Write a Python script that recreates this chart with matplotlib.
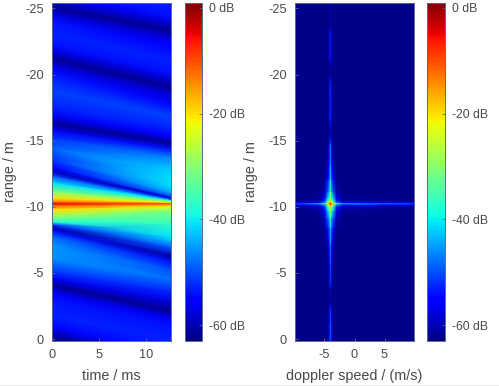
import numpy as np
import matplotlib
matplotlib.use('Agg')
from matplotlib import pyplot as plt
from matplotlib.lines import Line2D

plt.rcParams['font.family'] = ['Liberation Sans', 'DejaVu Sans']
plt.rcParams['font.size'] = 10.4
plt.rcParams['axes.unicode_minus'] = False
TEXT = '#4a4a4a'
EDGE = '#5a6a8a'

# left panel: lines of constant pattern running from t=0 to t=end (bands slope)
time_edges = [0, 12.6]
range_at_start = [-27.49, -26.21, -25.60, -25.08, -24.55, -24.02, -23.11, -22.28, -21.75, -21.22,
                  -20.69, -20.09, -18.81, -17.52, -16.84, -16.31, -15.79, -15.18, -14.43, -13.52,
                  -12.99, -12.61, -12.31, -11.78, -11.10, -10.61, -10.35, -10.20, -10.05, -9.78,
                  -9.21, -8.84, -8.61, -8.38, -8.16, -7.78, -7.10, -6.12, -5.06, -4.53,
                  -4.08, -3.55, -2.95, -1.81, -0.91, -0.23, 0.45]
range_at_end = [-25.6, -24.47, -23.94, -23.34, -22.73, -22.13, -21.07, -20.17, -19.64, -19.03,
                -18.43, -17.82, -16.84, -15.94, -15.33, -14.80, -14.35, -13.75, -12.76, -11.56,
                -10.95, -10.65, -10.54, -10.46, -10.39, -10.31, -10.25, -10.20, -10.12, -9.97,
                -9.67, -8.69, -7.63, -6.87, -6.27, -5.82, -5.21, -4.53, -3.55, -2.79,
                -2.11, -1.59, -0.98, 0.08, 0.98, 1.96, 3.10]
db_at_start = [-53, -55, -58, -62, -58, -54, -53, -54, -58, -62,
               -58, -54, -51, -53, -57, -62, -57, -52, -49, -52,
               -56, -60, -50, -41, -30, -20, -12, -5, -12, -20,
               -30, -38, -52, -61, -54, -49, -46, -46, -52, -57,
               -62, -57, -54, -53, -56, -62, -58]
db_at_end = [-53, -54, -58, -62, -58, -55, -53, -54, -58, -62,
             -58, -55, -51, -53, -56, -62, -54, -47, -42, -41,
             -46, -58, -50, -40, -30, -22, -15, -10, -16, -24,
             -31, -37, -41, -50, -61, -54, -50, -48, -53, -58,
             -62, -57, -54, -53, -54, -60, -58]

# right panel: doppler/range map, ridge profiles along range
speed_knots = [-9.9, -6, -5, -4.5, -4.2, -4, -3.8, -3.5, -3, -2, 9.9]
range_knots = [-25.6, -23.49, -23.19, -21.07, -20.62, -19.86, -19.41, -16.54, -15.94, -15.18,
               -14.65, -13.14, -12.01, -11.10, -10.65, -10.42, -10.27, -10.20, -10.12, -9.97,
               -9.67, -9.14, -8.38, -7.10, -5.59, -4.08, -3.70, -2.72, -2.27, -1.06, 0.23]
ridge_db = [-60, -60, -53, -54, -60, -60, -52, -52, -58, -56,
            -47, -45, -40, -33, -27, -20, -12, -2, -12, -20,
            -28, -34, -41, -46, -50, -52, -60, -60, -52, -49, -49]
near_db = [-62.5, -62.5, -60, -60, -62.5, -62.5, -60, -60, -62.5, -62,
           -58, -56, -50, -44, -38, -31, -22, -12, -22, -31,
           -38, -44, -50, -56, -59, -60, -62.5, -62.5, -60, -58, -58]
mid_db = [-62.5, -62.5, -62.5, -62.5, -62.5, -62.5, -62.5, -62.5, -62.5, -62.5,
          -62.5, -61, -56, -50, -44, -38, -30, -20, -30, -38,
          -44, -50, -56, -61, -62.5, -62.5, -62.5, -62.5, -62.5, -62.5, -62.5]
wide_db = [-62.5, -62.5, -62.5, -62.5, -62.5, -62.5, -62.5, -62.5, -62.5, -62.5,
           -62.5, -62.5, -62.5, -60, -57, -53, -46, -33, -46, -53,
           -57, -60, -62.5, -62.5, -62.5, -62.5, -62.5, -62.5, -62.5, -62.5, -62.5]
wider_db = [-62.5, -62.5, -62.5, -62.5, -62.5, -62.5, -62.5, -62.5, -62.5, -62.5,
            -62.5, -62.5, -62.5, -62.5, -62, -60, -56, -42, -56, -60,
            -62, -62.5, -62.5, -62.5, -62.5, -62.5, -62.5, -62.5, -62.5, -62.5, -62.5]
edge_db = [-62.5, -62.5, -62.5, -62.5, -62.5, -62.5, -62.5, -62.5, -62.5, -62.5,
           -62.5, -62.5, -62.5, -62.5, -62.5, -62.5, -57, -51, -57, -62.5,
           -62.5, -62.5, -62.5, -62.5, -62.5, -62.5, -62.5, -62.5, -62.5, -62.5, -62.5]

db_ticks = [0, -20, -40, -60]
range_ticks = [0, -5, -10, -15, -20, -25]


def px_axes(fig, x0, x1, y0=2.5, y1=341):
    return fig.add_axes([x0 / 499, (386 - y1) / 386, (x1 - x0) / 499, (y1 - y0) / 386])


def style_axes(ax, label_x):
    ax.set_ylim(0.15, -25.45)
    ax.set_yticks(range_ticks)
    ax.set_ylabel('range / m', color=TEXT)
    ax.yaxis.set_label_coords(label_x, 0.5)
    ax.xaxis.set_label_coords(0.5, -0.083)
    ax.tick_params(direction='in', length=2, width=0.6, color=EDGE, labelcolor=TEXT,
                   pad=6, labelsize=9.2)
    for s in ax.spines.values():
        s.set_color(EDGE)
        s.set_linewidth(0.7)


def add_colorbar(fig, mesh, x0, x1):
    cax = px_axes(fig, x0, x1)
    cb = fig.colorbar(mesh, cax=cax, ticks=db_ticks, format='%d dB')
    cb.ax.tick_params(direction='in', length=2, width=0.6, color=EDGE, labelcolor=TEXT,
                      pad=5, labelsize=8.7)
    cb.outline.set_edgecolor(EDGE)
    cb.outline.set_linewidth(0.7)


fig = plt.figure(figsize=(4.99, 3.86), dpi=100)

ax1 = px_axes(fig, 52, 171)
X = np.array([[time_edges[0]] * len(range_at_start), [time_edges[1]] * len(range_at_start)]).T
Y = np.column_stack([range_at_start, range_at_end])
C = np.column_stack([db_at_start, db_at_end])
mesh1 = ax1.pcolormesh(X, Y, C, shading='gouraud', cmap='jet', vmin=-63, vmax=1)
ax1.set_xlim(0, 12.6)
ax1.set_xticks([0, 5, 10])
ax1.set_xlabel('time / ms', color=TEXT)
style_axes(ax1, -0.294)
add_colorbar(fig, mesh1, 185, 202)

ax2 = px_axes(fig, 295, 414)
spec_db = np.column_stack([edge_db, wider_db, wide_db, mid_db, near_db, ridge_db,
                           near_db, mid_db, wide_db, wider_db, edge_db])
mesh2 = ax2.pcolormesh(speed_knots, range_knots, spec_db, shading='gouraud',
                       cmap='jet', vmin=-63, vmax=1)
ax2.set_xlim(-9.9, 9.9)
ax2.set_xticks([-5, 0, 5])
ax2.set_xlabel('doppler speed / (m/s)', color=TEXT)
style_axes(ax2, -0.31)
add_colorbar(fig, mesh2, 427, 445)

# thin frame line along the bottom of the screenshot
fig.add_artist(Line2D([0, 1], [0.5 / 386, 0.5 / 386], color='#9a9a9a', linewidth=1))

plt.savefig('out.png', dpi=100)
